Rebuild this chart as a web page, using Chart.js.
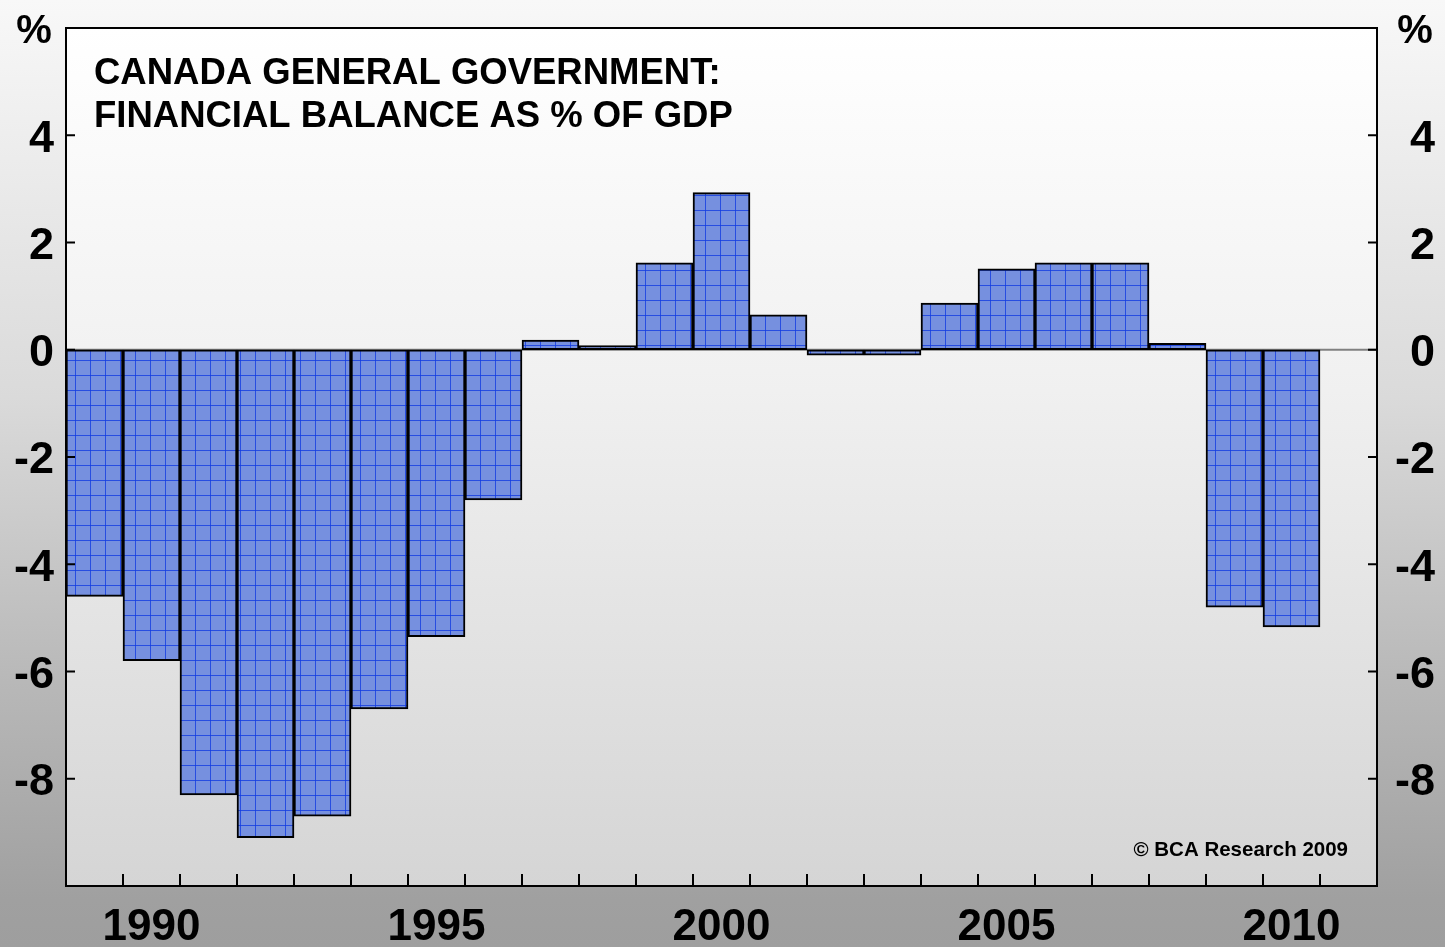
<!DOCTYPE html>
<html>
<head>
<meta charset="utf-8">
<script src="https://cdn.jsdelivr.net/npm/chart.js@4/dist/chart.umd.min.js"></script>
<style>
  html, body { margin: 0; padding: 0; }
  body {
    width: 1445px; height: 947px; overflow: hidden;
    background: linear-gradient(to bottom, #f8f8f8 0%, #dadada 42%, #b8b8b8 72%, #a0a0a0 95%, #9e9e9e 100%);
  }
  #wrap { position: relative; width: 1445px; height: 947px; }
</style>
</head>
<body>
<div id="wrap"><canvas id="balanceChart"></canvas></div>
<script>
// años (2011 queda vacío, como en el original)
const years = ['1989','1990','1991','1992','1993','1994','1995','1996','1997','1998','1999',
  '2000','2001','2002','2003','2004','2005','2006','2007','2008','2009','2010','2011'];
// balance financiero, % del PIB
const balance = [-4.6, -5.8, -8.3, -9.1, -8.7, -6.7, -5.35, -2.8, 0.18, 0.08, 1.62,
  2.93, 0.65, -0.1, -0.1, 0.87, 1.51, 1.62, 1.62, 0.12, -4.8, -5.17, null];
const yearLabels = ['1990', '1995', '2000', '2005', '2010'];
const titleLines = ['CANADA GENERAL GOVERNMENT:', 'FINANCIAL BALANCE AS % OF GDP'];
const sourceText = '\u00A9 BCA Research 2009';

const FONT = '"Liberation Sans", Arial, sans-serif';

// patrón cuadriculado de las barras
function gridPattern() {
  const c = document.createElement('canvas');
  c.width = 15; c.height = 15;
  const g = c.getContext('2d');
  g.fillStyle = '#7690df';
  g.fillRect(0, 0, 15, 15);
  g.fillStyle = 'rgba(20,60,225,0.8)';
  g.fillRect(0, 0, 15, 1);
  g.fillRect(0, 0, 1, 15);
  return g.createPattern(c, 'repeat');
}

// fondo del área del gráfico, marco, ticks hacia dentro y textos
const decorations = {
  id: 'decorations',
  beforeDatasetsDraw(chart) {
    const { ctx, chartArea: a } = chart;
    ctx.save();
    const grad = ctx.createLinearGradient(0, a.top, 0, a.bottom);
    grad.addColorStop(0, '#ffffff');
    grad.addColorStop(0.4, '#f1f1f1');
    grad.addColorStop(1, '#d5d5d5');
    ctx.fillStyle = grad;
    ctx.fillRect(a.left, a.top, a.right - a.left, a.bottom - a.top);
    // línea del cero
    const y0 = chart.scales.y.getPixelForValue(0);
    ctx.strokeStyle = '#808080';
    ctx.lineWidth = 2;
    ctx.beginPath();
    ctx.moveTo(a.left, y0);
    ctx.lineTo(a.right, y0);
    ctx.stroke();
    ctx.restore();
  },
  afterDraw(chart) {
    const { ctx, chartArea: a } = chart;
    const x = chart.scales.x, y = chart.scales.y;
    ctx.save();
    ctx.strokeStyle = '#000';
    ctx.lineWidth = 2;
    ctx.strokeRect(a.left, a.top, a.right - a.left, a.bottom - a.top);
    ctx.beginPath();
    for (let i = 0; i < years.length - 1; i++) {
      const px = (x.getPixelForValue(i) + x.getPixelForValue(i + 1)) / 2;
      ctx.moveTo(px, a.bottom);
      ctx.lineTo(px, a.bottom - 12);
    }
    y.ticks.forEach(t => {
      const py = y.getPixelForValue(t.value);
      ctx.moveTo(a.left, py); ctx.lineTo(a.left + 9, py);
      ctx.moveTo(a.right, py); ctx.lineTo(a.right - 9, py);
    });
    ctx.stroke();

    ctx.fillStyle = '#000';
    ctx.textBaseline = 'alphabetic';
    ctx.font = 'bold 36.5px ' + FONT;
    ctx.textAlign = 'left';
    ctx.fillText(titleLines[0], 94, 84);
    ctx.fillText(titleLines[1], 94, 127);

    ctx.font = 'bold 20.5px ' + FONT;
    ctx.textAlign = 'right';
    ctx.fillText(sourceText, 1348, 856);

    ctx.font = 'bold 40px ' + FONT;
    ctx.textAlign = 'center';
    ctx.fillText('%', 34, 43);
    ctx.fillText('%', 1415, 43);
    ctx.restore();
  }
};

// sin relleno extra por las etiquetas en los extremos
function noPadY(s, w) { s.width = w; s.paddingTop = 0; s.paddingBottom = 0; }

const ctxBalance = document.getElementById('balanceChart').getContext('2d');
new Chart(ctxBalance, {
  type: 'bar',
  data: {
    labels: years,
    datasets: [{
      label: 'Financial balance',
      data: balance,
      backgroundColor: gridPattern(),
      borderColor: '#000',
      borderWidth: 2,
      borderSkipped: false,
      categoryPercentage: 1,
      barPercentage: 1,
      yAxisID: 'y'
    }]
  },
  options: {
    responsive: true,
    maintainAspectRatio: false,
    animation: false,
    devicePixelRatio: 1,
    layout: { padding: { top: 28, right: 10, left: 0, bottom: 0 } },
    plugins: { legend: { display: false }, tooltip: { enabled: false } },
    scales: {
      x: {
        offset: true,
        border: { display: false },
        grid: { display: false, drawTicks: false },
        afterFit(s) { s.height = 61; s.paddingLeft = 0; s.paddingRight = 0; },
        ticks: {
          autoSkip: false,
          maxRotation: 0,
          padding: 15,
          color: '#000',
          font: { family: FONT, size: 44, weight: 'bold' },
          callback(v) {
            const lab = years[v];
            return yearLabels.includes(lab) ? lab : '';
          }
        }
      },
      y: {
        position: 'left',
        min: -10, max: 6,
        border: { display: false },
        grid: { display: false, drawTicks: false },
        afterFit(s) { noPadY(s, 66); },
        ticks: {
          stepSize: 2,
          padding: 12,
          labelOffset: 4,
          color: '#000',
          font: { family: FONT, size: 45, weight: 'bold' },
          callback(v) { return (v === -10 || v === 6) ? '' : v; }
        }
      },
      y2: {
        position: 'right',
        min: -10, max: 6,
        border: { display: false },
        grid: { display: false, drawTicks: false },
        afterFit(s) { noPadY(s, 58); },
        ticks: {
          stepSize: 2,
          crossAlign: 'far',
          labelOffset: 4,
          color: '#000',
          font: { family: FONT, size: 45, weight: 'bold' },
          callback(v) { return (v === -10 || v === 6) ? '' : v; }
        }
      }
    }
  },
  plugins: [decorations]
});
</script>
</body>
</html>
